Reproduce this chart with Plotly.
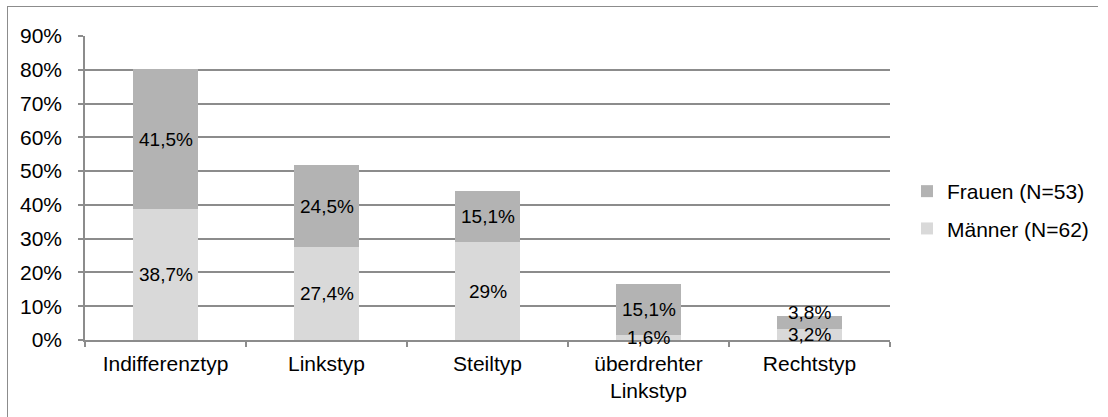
import plotly.graph_objects as go

# Lagetypen des Herzens, getrennt nach Geschlecht (Anteile in %)
categories = ["Indifferenztyp", "Linkstyp", "Steiltyp", "überdrehter<br>Linkstyp", "Rechtstyp"]
maenner = [38.7, 27.4, 29.0, 1.6, 3.2]
frauen = [41.5, 24.5, 15.1, 15.1, 3.8]
name_maenner = "Männer (N=62)"
name_frauen = "Frauen (N=53)"
y_ticks = [0, 10, 20, 30, 40, 50, 60, 70, 80, 90]

FONT = "Arial, Liberation Sans, sans-serif"
GRID = "#8c8c8c"


def fmt(v):
    return f"{v:g}".replace(".", ",") + "%"


fig = go.Figure()
fig.add_trace(go.Bar(x=categories, y=maenner, name=name_maenner, legendgroup="m", legendrank=2,
                     marker=dict(color="#d9d9d9", line=dict(width=0)), width=0.4))
fig.add_trace(go.Bar(x=categories, y=frauen, name=name_frauen, legendgroup="f", legendrank=1,
                     marker=dict(color="#b3b3b3", line=dict(width=0)), width=0.4))

# Datenbeschriftungen mittig in den Segmenten
annotations = []
for cat, m, f in zip(categories, maenner, frauen):
    annotations.append(dict(x=cat, y=m / 2, text=fmt(m), showarrow=False,
                            font=dict(family=FONT, size=19, color="#000")))
    annotations.append(dict(x=cat, y=m + f / 2, text=fmt(f), showarrow=False,
                            yshift=10 if f < 5 else 0,
                            font=dict(family=FONT, size=19, color="#000")))

W, H = 1108, 417
L, R, T, B = 85, 218, 36, 77
pw, ph = W - L - R, H - T - B


def px(x):
    return (x - L) / pw


def py(y):
    return (H - B - y) / ph


shapes = [
    dict(type="line", xref="paper", yref="paper", x0=px(7), x1=px(1098), y0=py(6.5), y1=py(6.5),
         line=dict(color="#8c8c8c", width=1)),
    dict(type="line", xref="paper", yref="paper", x0=px(7.5), x1=px(7.5), y0=py(6), y1=py(430),
         line=dict(color="#8c8c8c", width=1)),
]

fig.update_layout(
    width=W, height=H,
    margin=dict(l=L, r=R, t=T, b=B, pad=0),
    barmode="stack",
    plot_bgcolor="white", paper_bgcolor="white",
    font=dict(family=FONT, size=21, color="#000"),
    annotations=annotations,
    shapes=shapes,
    showlegend=True,
    legend=dict(x=px(907), y=py(171), xanchor="left", yanchor="top",
                traceorder="grouped", tracegroupgap=7,
                font=dict(family=FONT, size=21, color="#000"),
                bgcolor="rgba(0,0,0,0)"),
    xaxis=dict(type="category", range=[-0.5, 4.5], showgrid=False,
               showline=True, linecolor=GRID, linewidth=1.5,
               ticks="outside", tickson="boundaries", ticklen=5, tickcolor=GRID, tickwidth=1.5,
               ticklabelstandoff=4,
               tickfont=dict(family=FONT, size=21)),
    yaxis=dict(range=[0, 90], tickvals=y_ticks, ticktext=[f"{v}%" for v in y_ticks],
               showgrid=True, gridcolor=GRID, gridwidth=1.5, zeroline=False,
               showline=True, linecolor=GRID, linewidth=1.5,
               ticks="outside", ticklen=5, tickcolor=GRID, tickwidth=1.5,
               ticklabelstandoff=12,
               tickfont=dict(family=FONT, size=21)),
)

fig.write_html("out.html")
